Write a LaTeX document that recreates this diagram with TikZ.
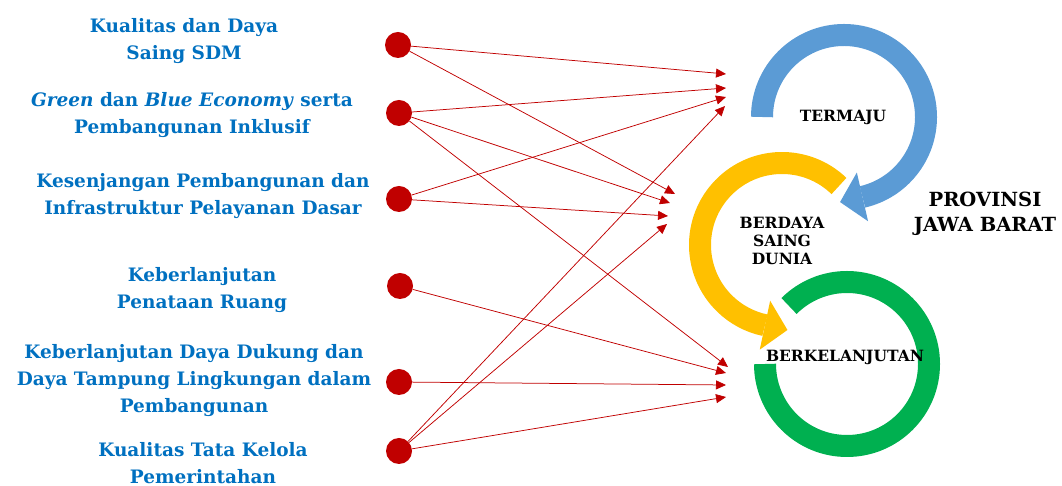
\documentclass[tikz,border=0pt]{standalone}
\usepackage{fontspec}
\setmainfont{DejaVu Serif}
\usetikzlibrary{arrows.meta,calc}
\definecolor{lblblue}{HTML}{0070C0}
\definecolor{dotred}{HTML}{C00000}
\definecolor{ringblue}{HTML}{5B9BD5}
\definecolor{ringyellow}{HTML}{FFC000}
\definecolor{ringgreen}{HTML}{00B050}
\begin{document}
\begin{tikzpicture}[x=1pt,y=1pt,
  lbl/.style={text=lblblue,font=\fontsize{18.5}{27}\selectfont\bfseries,align=center,inner sep=0pt},
  dot/.style={circle,fill=dotred,minimum size=26pt,inner sep=0pt},
  link/.style={draw=dotred,line width=0.75pt,-{Triangle[length=10pt,width=9pt]}},
  ring/.style={line width=22pt},
  tag/.style={font=\fontsize{15.5}{18}\selectfont\bfseries,align=center,inner sep=0pt}]
\useasboundingbox (0,0) rectangle (1062,486);
% left labels
\node[lbl] (l1) at (184,445) {Kualitas dan Daya\\Saing SDM};
\node[lbl] (l2) at (192,371) {\textit{Green} dan \textit{Blue Economy} serta\\Pembangunan Inklusif};
\node[lbl] (l3) at (203,290) {Kesenjangan Pembangunan dan\\Infrastruktur Pelayanan Dasar};
\node[lbl] (l4) at (202,196) {Keberlanjutan\\Penataan Ruang};
\node[lbl] (l5) at (194,105) {Keberlanjutan Daya Dukung dan\\Daya Tampung Lingkungan dalam\\Pembangunan};
\node[lbl] (l6) at (203,23) {Kualitas Tata Kelola\\Pemerintahan};
% dots
\node[dot] (d1) at (398,441) {};
\node[dot] (d2) at (399,373) {};
\node[dot] (d3) at (399,287) {};
\node[dot] (d4) at (400,200) {};
\node[dot] (d5) at (399,104) {};
\node[dot] (d6) at (399,35) {};
% arrow ends
\coordinate (a1) at (726,412);
\coordinate (a2) at (726,398);
\coordinate (a3) at (726,389);
\coordinate (a4) at (725,380);
\coordinate (b1) at (675,292);
\coordinate (b2) at (670,283);
\coordinate (b3) at (668,270);
\coordinate (b4) at (667,262);
\coordinate (c1) at (728,119);
\coordinate (c2) at (726,113);
\coordinate (c3) at (726,101);
\coordinate (c4) at (726,89);
\draw[link] (d1) -- (a1);
\draw[link] (d1) -- (b1);
\draw[link] (d2) -- (a2);
\draw[link] (d2) -- (b2);
\draw[link] (d2) -- (c1);
\draw[link] (d3) -- (a3);
\draw[link] (d3) -- (b3);
\draw[link] (d4) -- (c2);
\draw[link] (d5) -- (c3);
\draw[link] (d6) -- (a4);
\draw[link] (d6) -- (b4);
\draw[link] (d6) -- (c4);
% rings
\coordinate (gc) at (847,122);
\coordinate (yc) at (782,241);
\coordinate (bc) at (844,369);
\draw[ring,draw=ringgreen] ([shift={(180:82)}]gc) arc[start angle=180,end angle=495,radius=82];
\draw[ring,draw=ringyellow] ([shift={(46:82)}]yc) arc[start angle=46,end angle=258,radius=82];
\fill[ringyellow] ([shift={(258:57)}]yc) -- ([shift={(258:107)}]yc) -- ($([shift={(258:82)}]yc)+(348:23)$) -- cycle;
\draw[ring,draw=ringblue] ([shift={(180:82)}]bc) arc[start angle=180,end angle=-77,radius=82];
\fill[ringblue] ([shift={(-77:57)}]bc) -- ([shift={(-77:107)}]bc) -- ($([shift={(-77:82)}]bc)+(-167:23)$) -- cycle;
% ring labels
\node[tag] (t1) at (843,369) {TERMAJU};
\node[tag] (t2) at (782,245) {BERDAYA\\SAING\\DUNIA};
\node[tag] (t3) at (845,129) {BERKELANJUTAN};
\node[tag,font=\fontsize{19.5}{25}\selectfont\bfseries] (t4) at (985,272) {PROVINSI\\JAWA BARAT};
\end{tikzpicture}
\end{document}
